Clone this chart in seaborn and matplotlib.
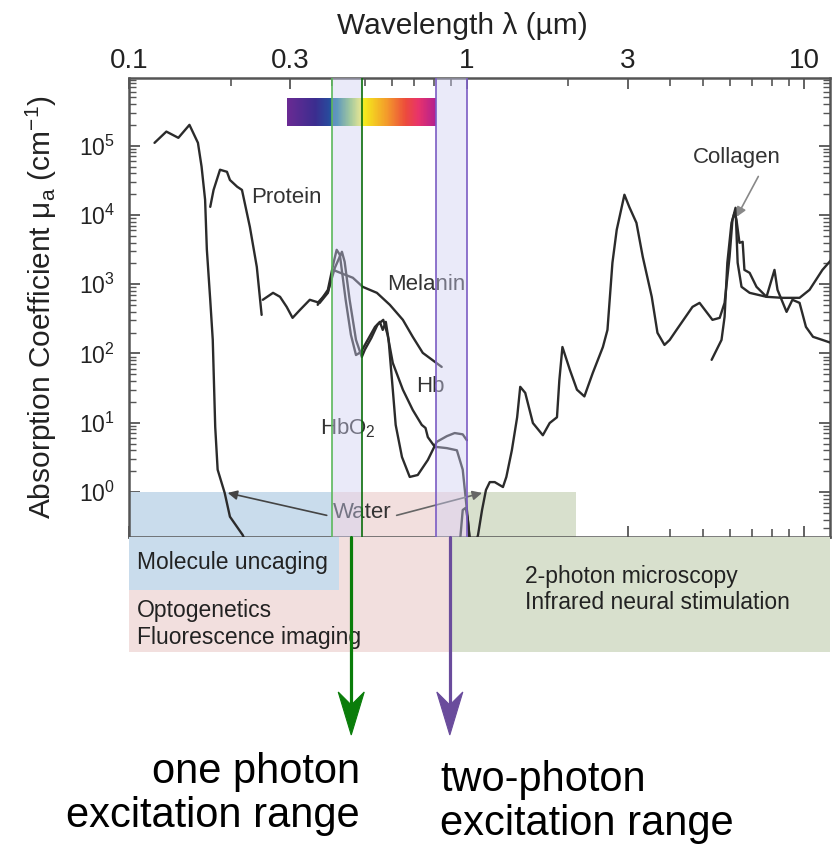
import numpy as np
import matplotlib
matplotlib.use("Agg")
import matplotlib.pyplot as plt
import matplotlib.ticker as mticker
from matplotlib.colors import LinearSegmentedColormap
from matplotlib.patches import Polygon
import seaborn as sns

# wavelength (um) / absorption coefficient (cm^-1)
water_wl = [0.119, 0.129, 0.140, 0.151, 0.160, 0.164, 0.168, 0.170, 0.174, 0.177,
            0.180, 0.183, 0.192, 0.199, 0.217, 0.25, 0.90, 0.953, 0.973, 0.993,
            1.007, 1.02, 1.06, 1.08, 1.11, 1.14, 1.17, 1.21, 1.28, 1.31,
            1.36, 1.41, 1.44, 1.49, 1.57, 1.68, 1.76, 1.85, 1.88, 1.92,
            2.02, 2.12, 2.23, 2.36, 2.53, 2.61, 2.70, 2.78, 2.93, 3.03,
            3.18, 3.32, 3.53, 3.67, 3.85, 3.99, 4.18, 4.66, 4.89, 5.34,
            5.61, 5.80, 6.00, 6.12, 6.25, 6.34, 6.51, 6.88, 7.72, 8.61,
            9.67, 10.35, 11.3, 12.0]
water_mu = [1.1e5, 1.6e5, 1.3e5, 2.0e5, 1.1e5, 5.0e4, 1.66e4, 3.2e3, 590, 158,
            8.7, 2.1, 0.97, 0.44, 0.24, 0.05, 0.05, 0.17, 0.55, 0.59,
            0.40, 0.20, 0.17, 0.24, 0.55, 1.07, 1.39, 1.39, 1.18, 1.65,
            4.0, 12, 33, 27, 9.9, 6.6, 9.9, 12, 41, 124,
            58, 30, 24, 52, 124, 219, 2040, 6100, 1.96e4, 1.3e4,
            7700, 2490, 658, 199, 133, 157, 219, 471, 538, 306,
            327, 538, 2490, 8500, 1.27e4, 2040, 917, 751, 658, 636,
            636, 830, 1610, 2250]

protein_wl = [0.174, 0.178, 0.186, 0.195, 0.199, 0.209, 0.216, 0.228, 0.239, 0.247]
protein_mu = [1.31e4, 2.3e4, 4.5e4, 4.2e4, 3.2e4, 2.56e4, 2.3e4, 6700, 1780, 361]

melanin_wl = [0.249, 0.267, 0.280, 0.293, 0.305, 0.321, 0.343, 0.367, 0.388, 0.402,
              0.430, 0.460, 0.492, 0.542, 0.592, 0.647, 0.692, 0.741, 0.804, 0.843]
melanin_mu = [596, 751, 658, 471, 327, 427, 596, 538, 751, 1610,
              1410, 1240, 917, 751, 504, 306, 174, 102, 76, 64]

hbo2_wl = [0.362, 0.388, 0.404, 0.412, 0.421, 0.438, 0.454, 0.470, 0.486, 0.509,
           0.535, 0.553, 0.564, 0.576, 0.587, 0.604, 0.616, 0.643, 0.678, 0.716,
           0.767, 0.815, 0.873, 0.921, 0.973, 1.0]
hbo2_mu = [504, 830, 2110, 3140, 2660, 596, 186, 95, 105, 157,
           242, 286, 219, 286, 157, 30, 9.3, 3.2, 1.65, 1.76,
           2.9, 5.3, 6.4, 7.1, 6.8, 5.6]

hb_wl = [0.362, 0.388, 0.407, 0.427, 0.435, 0.450, 0.470, 0.489, 0.499, 0.522,
         0.544, 0.566, 0.583, 0.604, 0.647, 0.692, 0.736, 0.755, 0.767, 0.804,
         0.873, 0.935, 0.973, 0.994, 1.02]
hb_mu = [540, 776, 1730, 2940, 2110, 596, 157, 89, 113, 168,
         259, 306, 186, 73, 30, 15.3, 9.3, 8.4, 6.2, 4.5,
         4.3, 4.0, 2.1, 0.77, 0.22]

collagen_wl = [5.31, 5.68, 5.80, 5.91, 6.08, 6.21, 6.29, 6.42, 6.56, 6.64,
               6.88, 7.21, 7.72, 8.15, 8.32, 8.85, 9.21, 9.67, 10.1, 10.6,
               11.3, 12.0]
collagen_mu = [81, 157, 338, 2040, 7700, 1.08e4, 8500, 3960, 4100, 1610,
               1460, 917, 658, 1610, 830, 399, 596, 538, 242, 174,
               157, 142]

# visible spectrum strip
spec_wl = [0.293, 0.355, 0.39, 0.41, 0.45, 0.48, 0.50, 0.58, 0.66, 0.72, 0.811]
spec_col = ["#6a2a93", "#3b2d8f", "#284a9c", "#0a6e9a", "#7ec264", "#e5ee53",
            "#f4e81c", "#f39a2b", "#ec4b3c", "#e8336b", "#b2208f"]

one_photon = (0.40, 0.49)
two_photon = (0.81, 1.0)

ink = "#2b2b2b"
blue, pink, green = "#c9dcec", "#f2dfde", "#d8e0cd"

sns.set_style("ticks")
plt.rcParams["font.family"] = ["Liberation Sans", "DejaVu Sans"]
plt.rcParams["mathtext.fontset"] = "custom"
plt.rcParams["mathtext.rm"] = "Liberation Sans"
plt.rcParams["mathtext.default"] = "regular"

W, H = 832, 846
fig = plt.figure(figsize=(W / 100, H / 100), dpi=100)
L, R, T, B = 129 / W, 830 / W, 1 - 78 / H, 1 - 537 / H
ax = fig.add_axes([L, B, R - L, T - B])
ax.set_xscale("log")
ax.set_yscale("log")
xlim = (0.1, 11.9)
ax.set_xlim(*xlim)
ax.set_ylim(0.224, 9.5e5)

for wl, mu in [(water_wl, water_mu), (protein_wl, protein_mu), (melanin_wl, melanin_mu),
               (hbo2_wl, hbo2_mu), (hb_wl, hb_mu), (collagen_wl, collagen_mu)]:
    sns.lineplot(x=wl, y=mu, ax=ax, color=ink, lw=1.7, sort=False, estimator=None, zorder=3)

# application strips inside the plot
ax.fill_between([0.1, 0.40], 1e-3, 1.0, color=blue, lw=0, zorder=1)
ax.fill_between([0.40, 1.0], 1e-3, 1.0, color=pink, lw=0, zorder=1)
ax.fill_between([1.0, 2.1], 1e-3, 1.0, color=green, lw=0, zorder=1)

# spectrum bar
lw_ = np.log10(spec_wl)
pos = (lw_ - lw_[0]) / (lw_[-1] - lw_[0])
cmap = LinearSegmentedColormap.from_list("spec", list(zip(pos, spec_col)))
xe = np.geomspace(spec_wl[0], spec_wl[-1], 300)
ax.pcolormesh(xe, [1.95e5, 4.9e5], np.linspace(0, 1, 299)[None, :], cmap=cmap,
              shading="flat", zorder=2)

# labels
tk = dict(fontsize=16, color="#333333", ha="center", va="center", zorder=4)
ax.text(0.293, 1.78e4, "Protein", **tk)
ax.text(0.76, 975, "Melanin", **tk)
ax.text(0.78, 33, "Hb", **tk)
ax.text(0.445, 8.4, "HbO$_2$", **tk)
ax.text(0.49, 0.5, "Water", **tk)
ax.text(6.3, 6.7e4, "Collagen", **tk)
ax.annotate("", xy=(0.196, 0.97), xytext=(0.385, 0.46), zorder=4,
            arrowprops=dict(arrowstyle="-|>", color="#444444", lw=1.2, mutation_scale=14,
                            shrinkA=0, shrinkB=0))
ax.annotate("", xy=(1.11, 0.97), xytext=(0.62, 0.46), zorder=4,
            arrowprops=dict(arrowstyle="-|>", color="#666666", lw=1.2, mutation_scale=14,
                            shrinkA=0, shrinkB=0))
ax.annotate("", xy=(6.3, 9.4e3), xytext=(7.3, 3.6e4), zorder=4,
            arrowprops=dict(arrowstyle="-|>", color="#888888", lw=1.2, mutation_scale=14,
                            shrinkA=0, shrinkB=0))

# excitation windows
ax.axvspan(*one_photon, color="#cfcff3", alpha=0.42, lw=0, zorder=10)
ax.axvspan(*two_photon, color="#cfcff3", alpha=0.42, lw=0, zorder=10)
ax.axvline(one_photon[0], color="#5cb85c", lw=1.2, zorder=11)
ax.axvline(one_photon[1], color="#0b6e0b", lw=1.2, zorder=11)
ax.axvline(two_photon[0], color="#7b5cc4", lw=1.2, zorder=11)
ax.axvline(two_photon[1], color="#7b5cc4", lw=1.2, zorder=11)

# axes styling
ax.xaxis.set_major_locator(mticker.FixedLocator([0.1, 0.3, 1, 3, 10]))
ax.xaxis.set_major_formatter(mticker.FixedFormatter(["0.1", "0.3", "1", "3", "10"]))
ax.xaxis.set_minor_locator(mticker.LogLocator(base=10, subs=np.arange(1, 10), numticks=20))
ax.xaxis.set_minor_formatter(mticker.NullFormatter())
ax.yaxis.set_major_locator(mticker.LogLocator(base=10, numticks=20))
ax.yaxis.set_minor_locator(mticker.LogLocator(base=10, subs=np.arange(2, 10), numticks=20))
ax.yaxis.set_minor_formatter(mticker.NullFormatter())
ax.tick_params(axis="x", which="both", direction="in", top=True, bottom=True,
               labeltop=True, labelbottom=False, colors="#555555", labelcolor="#222222")
ax.tick_params(axis="y", which="both", direction="in", left=True, right=True,
               colors="#555555", labelcolor="#222222")
ax.tick_params(axis="x", which="major", labelsize=20, length=8, width=1.3, pad=3)
ax.tick_params(axis="x", which="minor", length=6, width=1.2)
ax.tick_params(axis="y", which="major", labelsize=16.5, length=8, width=1.3, pad=10)
ax.tick_params(axis="y", which="minor", length=5, width=1.0)
for s in ax.spines.values():
    s.set_color("#555555")
    s.set_linewidth(1.8)
ax.xaxis.set_label_position("top")
ax.set_xlabel("Wavelength λ (µm)", fontsize=21.5, labelpad=10, color="#222222")
ax.xaxis.label.set_x(0.475)
ax.set_ylabel("Absorption Coefficient μ$_{a}$ (cm$^{-1}$)", fontsize=21.5, labelpad=14,
              color="#222222")

# application boxes below the plot
low = fig.add_axes([L, 1 - 652 / H, R - L, 115 / H])
low.set_xscale("log")
low.set_xlim(*xlim)
low.set_ylim(0, 1)
low.axis("off")
low.axvspan(0.1, 0.89, color=pink, lw=0)
low.axvspan(0.89, 11.9, color=green, lw=0)
low.axvspan(0.1, 0.42, ymin=0.54, ymax=1, color=blue, lw=0)
bk = dict(fontsize=16.5, color="#222222", va="center")
low.text(0.1056, 0.78, "Molecule uncaging", **bk)
low.text(0.1056, 0.365, "Optogenetics", **bk)
low.text(0.1056, 0.13, "Fluorescence imaging", **bk)
low.text(1.49, 0.66, "2-photon microscopy", **bk)
low.text(1.49, 0.43, "Infrared neural stimulation", **bk)

# pointer arrows with notched heads (pixel layout)
for xv, col in [(0.455, "#0a7d0a"), (0.891, "#6a4c9c")]:
    px = low.transData.transform((xv, 0.5))[0]
    fig.add_artist(plt.Line2D([px / W, px / W], [1 - 537 / H, 1 - 706 / H],
                              transform=fig.transFigure, color=col, lw=2.3))
    head = [(px, 735), (px - 13, 692), (px, 705), (px + 13, 692)]
    fig.add_artist(Polygon([(hx / W, 1 - hy / H) for hx, hy in head], closed=True,
                           transform=fig.transFigure, facecolor=col, edgecolor=col, lw=0.8))

fig.text(360 / W, 1 - 752 / H, "one photon\nexcitation range", ha="right", va="top",
         fontsize=30, linespacing=1.13, color="black")
fig.text(440 / W, 1 - 760 / H, "two-photon\nexcitation range", ha="left", va="top",
         fontsize=30, linespacing=1.13, color="black")

fig.savefig("out.png", dpi=100, facecolor="white")
